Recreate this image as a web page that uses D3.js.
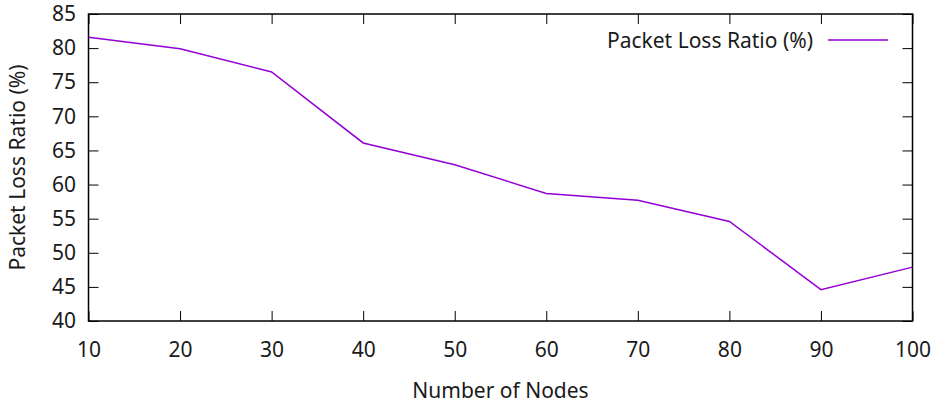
<!DOCTYPE html>
<html>
<head>
<meta charset="utf-8">
<script src="https://cdn.jsdelivr.net/npm/d3@7"></script>
<style>
  body { margin: 0; background: #fff; }
  text { font-family: "Noto Sans", "Open Sans", sans-serif; fill: #1a1a1a; }
</style>
</head>
<body>
<div id="chart"></div>
<script>
// data
var nodes = [10, 20, 30, 40, 50, 60, 70, 80, 90, 100];
var lossRatio = [81.6, 79.9, 76.5, 66.1, 62.9, 58.7, 57.7, 54.6, 44.6, 47.9];
var yTicks = [40, 45, 50, 55, 60, 65, 70, 75, 80, 85];
var seriesName = "Packet Loss Ratio (%)";

var svg_width = 937, svg_height = 404;
var margin = {top: 14, right: 24.5, bottom: 83, left: 88.5};
var width = svg_width - margin.left - margin.right,
    height = svg_height - margin.top - margin.bottom;
var tickLen = 10;
var fontSize = "21px";
var lineColor = "#9400d3";

var svg = d3.select("#chart").append("svg")
  .attr("width", svg_width)
  .attr("height", svg_height);

var g = svg.append("g")
  .attr("transform", "translate(" + margin.left + "," + margin.top + ")");

var x = d3.scaleLinear().domain([10, 100]).range([0, width]);
var y = d3.scaleLinear().domain([40, 85]).range([height, 0]);

// ticks on all four sides, pointing inward (gnuplot mirror style)
function styleAxis(sel) {
  sel.select(".domain").remove();
  sel.selectAll(".tick line").attr("stroke", "#000").attr("stroke-width", 1);
  sel.selectAll(".tick text").style("font-size", fontSize);
}

g.append("g")
  .attr("transform", "translate(0," + height + ")")
  .call(d3.axisBottom(x).tickValues(nodes).tickSizeInner(-tickLen).tickPadding(21))
  .call(styleAxis);

g.append("g")
  .call(d3.axisTop(x).tickValues(nodes).tickSizeInner(-tickLen).tickFormat(""))
  .call(styleAxis);

g.append("g")
  .call(d3.axisLeft(y).tickValues(yTicks).tickSizeInner(-tickLen).tickPadding(12.5))
  .call(styleAxis);

g.append("g")
  .attr("transform", "translate(" + width + ",0)")
  .call(d3.axisRight(y).tickValues(yTicks).tickSizeInner(-tickLen).tickFormat(""))
  .call(styleAxis);

// frame
g.append("rect")
  .attr("width", width)
  .attr("height", height)
  .attr("fill", "none")
  .attr("stroke", "#000")
  .attr("stroke-width", 1.5);

// the series
var line = d3.line()
  .x(function(d, i) { return x(nodes[i]); })
  .y(function(d) { return y(d); });

g.append("path")
  .datum(lossRatio)
  .attr("d", line)
  .attr("fill", "none")
  .attr("stroke", lineColor)
  .attr("stroke-width", 1.5);

// legend
var legend = g.append("g").attr("transform", "translate(" + (width - 24.5) + ",26)");
legend.append("line")
  .attr("x1", -60).attr("x2", 0)
  .attr("stroke", lineColor).attr("stroke-width", 1.5);
legend.append("text")
  .attr("x", -75).attr("y", 8)
  .attr("text-anchor", "end")
  .style("font-size", fontSize)
  .text(seriesName);

// axis titles
svg.append("text")
  .attr("x", margin.left + width / 2)
  .attr("y", 398)
  .attr("text-anchor", "middle")
  .style("font-size", fontSize)
  .text("Number of Nodes");

svg.append("text")
  .attr("transform", "translate(25," + (margin.top + height / 2) + ") rotate(-90)")
  .attr("text-anchor", "middle")
  .style("font-size", fontSize)
  .text("Packet Loss Ratio (%)");
</script>
</body>
</html>
